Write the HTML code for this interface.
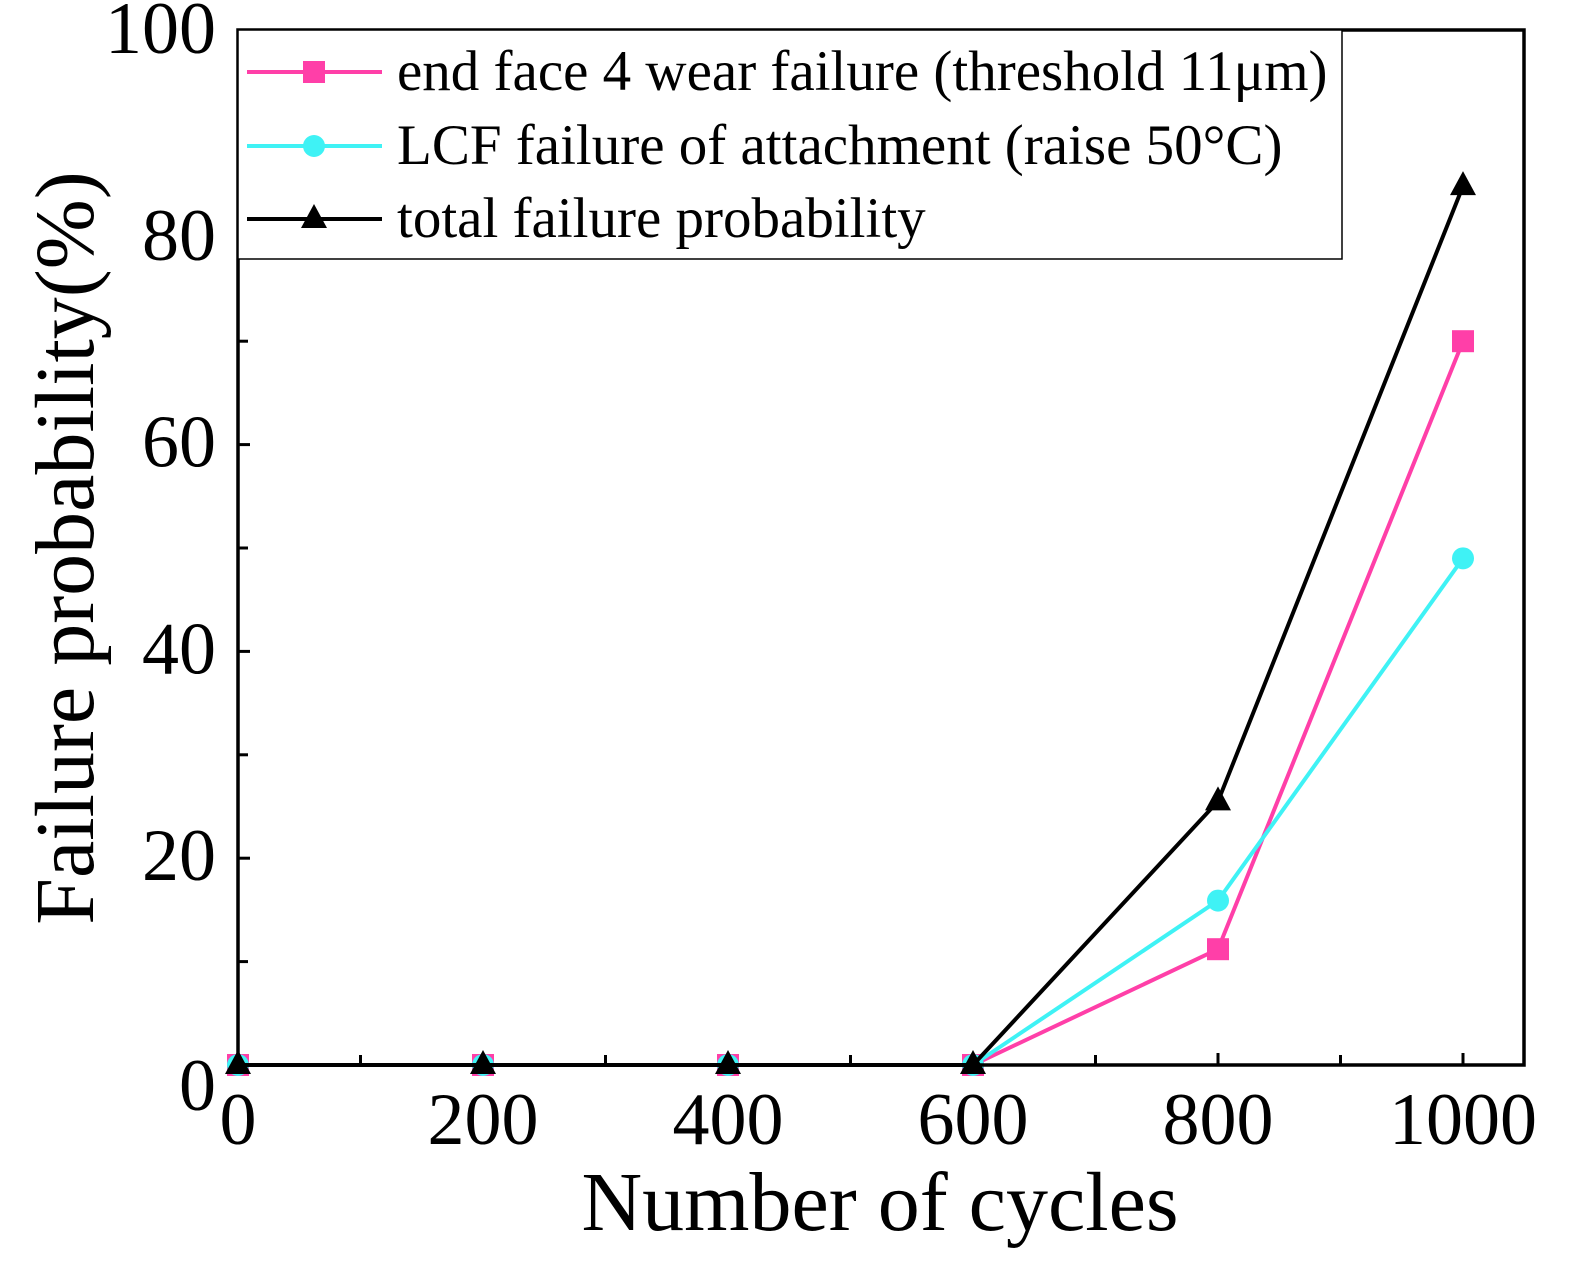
<!DOCTYPE html>
<html><head><meta charset="utf-8"><style>
html,body{margin:0;padding:0;background:#fff}
svg{display:block}
text{font-family:"Liberation Serif",serif;fill:#000}
</style></head><body>
<svg id="chart" width="1570" height="1276" xmlns="http://www.w3.org/2000/svg">
<g id="marks"></g>
</svg>
<script>
const cycles=[0,200,400,600,800,1000];
const wearFailure=[0,0,0,0,11.2,70];
const lcfFailure=[0,0,0,0,15.9,49];
const totalFailure=[0,0,0,0,25.5,85];
const xTicks=[0,200,400,600,800,1000];
const yTicks=[0,20,40,60,80,100];
const L=238,R=1524,T=30,B=1065;
const X=v=>L+(v/1000)*(1463-L);
const Y=v=>B-(v/100)*(B-31);
const NS='http://www.w3.org/2000/svg';
const svg=document.getElementById('chart');
function mk(tag,attrs,parent){const e=document.createElementNS(NS,tag);for(const k in attrs)e.setAttribute(k,attrs[k]);(parent||svg).appendChild(e);return e;}
let e;
e=mk('rect',{x:L,y:T,width:R-L,height:B-T,fill:'none',stroke:'#000','stroke-width':3.5});


xTicks.forEach(v=>{
 let t=mk('line',{x1:X(v),x2:X(v),y1:B,y2:B-12,stroke:'#000','stroke-width':3});
 
 
 let m=mk('line',{x1:X(v+100),x2:X(v+100),y1:B,y2:B-10,stroke:'#000','stroke-width':3});
 
 
 let lb=mk('text',{x:X(v),y:1144,'text-anchor':'middle','font-size':74});
 lb.textContent=v;
 
 
});
yTicks.forEach(v=>{
 let t=mk('line',{x1:L,x2:L+12,y1:Y(v),y2:Y(v),stroke:'#000','stroke-width':3});
 
 
 if(v<100){let m=mk('line',{x1:L,x2:L+10,y1:Y(v+10),y2:Y(v+10),stroke:'#000','stroke-width':3});
 
 }
 let lb=mk('text',{x:216,y:Y(v)+(v===0?45:22),'text-anchor':'end','font-size':74});
 lb.textContent=v;
 
 
});
let xt=mk('text',{x:880,y:1230,'text-anchor':'middle','font-size':84});
xt.textContent='Number of cycles';


let yt=mk('text',{x:0,y:0,'text-anchor':'middle','font-size':84,transform:'translate(93,548) rotate(-90)'});
yt.textContent='Failure probability(%)';


const g=document.getElementById('marks');
function marker(type,x,y,color,parent){
 let m;
 if(type==='square')m=mk('rect',{x:x-11,y:y-11,width:22,height:22,fill:color},parent);
 else if(type==='circle')m=mk('circle',{cx:x,cy:y,r:11,fill:color},parent);
 else m=mk('polygon',{points:`${x},${y-15} ${x-13},${y+9} ${x+13},${y+9}`,fill:color},parent);
 return m;
}
const series=[[wearFailure,'#ff3fa8','square','wear-series'],[lcfFailure,'#3ff2f5','circle','lcf-series'],[totalFailure,'#000','triangle','total-series']];
series.forEach(([vals,c,type,name])=>{
 let p=mk('polyline',{points:vals.map((v,i)=>X(cycles[i])+','+Y(vals[i])).join(' '),fill:'none',stroke:c,'stroke-width':4},g);
 
 
 vals.forEach((v,i)=>{let m=marker(type,X(cycles[i]),Y(v),c,g);
 
 });
});
let lg=mk('g',{});


mk('rect',{x:L,y:T,width:1342-L,height:259-T,fill:'#fff',stroke:'#000','stroke-width':1.5},lg);
const labels=['end face 4 wear failure (threshold 11\u03bcm)','LCF failure of attachment (raise 50\u00b0C)','total failure probability'];
const ly=[72,146,219];
series.forEach(([v,c,type,name],i)=>{
 let l=mk('line',{x1:247,x2:382,y1:ly[i],y2:ly[i],stroke:c,'stroke-width':4},lg);
 
 
 let m=marker(type,314,ly[i],c,lg);
 
 
 let t=mk('text',{x:397,y:ly[i]+18,'font-size':57},lg);
 t.textContent=labels[i];
 
 
});
</script>
</body></html>
